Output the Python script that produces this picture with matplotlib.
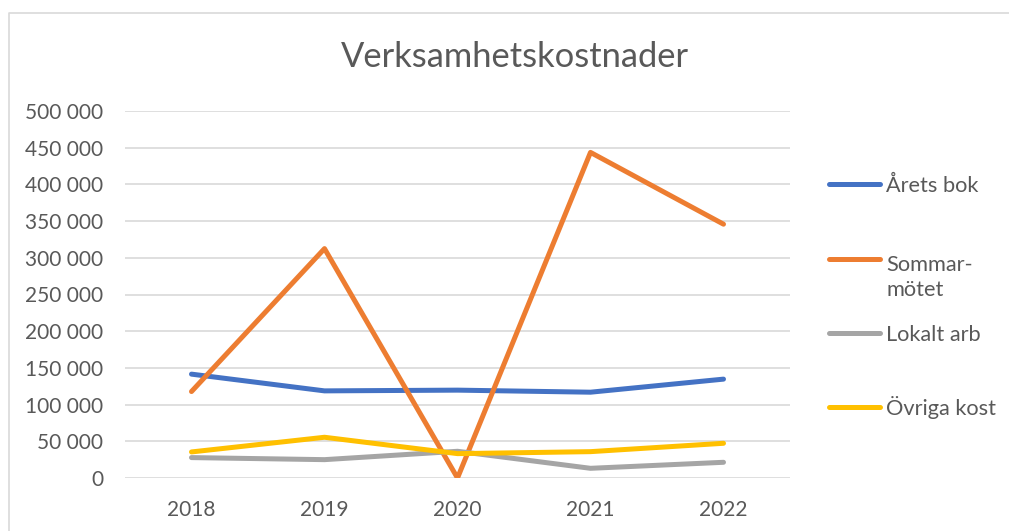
import matplotlib
matplotlib.use("Agg")
import matplotlib.pyplot as plt
from matplotlib.lines import Line2D
from matplotlib.ticker import FuncFormatter

# data
years = ["2018", "2019", "2020", "2021", "2022"]
arets_bok = [141500, 118700, 119700, 116900, 134700]
sommarmotet = [117800, 312500, 0, 443600, 345800]
lokalt_arb = [27800, 25000, 36400, 13200, 21400]
ovriga_kost = [35500, 55500, 33200, 35900, 47300]

labels = ["Årets bok", "Sommar-\nmötet", "Lokalt arb", "Övriga kost"]
colors = ["#4472C4", "#ED7D31", "#A5A5A5", "#FFC000"]
series = [arets_bok, sommarmotet, lokalt_arb, ovriga_kost]

plt.rcParams['font.family'] = ['Lato', 'DejaVu Sans']
txt = "#595959"
grid = "#D9D9D9"

W, H = 1009, 531
fig = plt.figure(figsize=(W / 100, H / 100), dpi=100)
ax = fig.add_axes([125 / W, 1 - 478 / H, (790 - 125) / W, (478 - 111) / H])

x = list(range(len(years)))
for vals, c in zip(series, colors):
    ax.plot(x, vals, color=c, linewidth=3.6, solid_capstyle='round',
            solid_joinstyle='round', zorder=3)

ax.set_xlim(-0.5, len(years) - 0.5)
ax.set_ylim(0, 500000)
ax.set_yticks(range(0, 500001, 50000))
ax.yaxis.set_major_formatter(FuncFormatter(lambda v, p: f"{int(v):,}".replace(",", " ")))
ax.set_xticks(x)
ax.set_xticklabels(years)
ax.grid(axis='y', color=grid, linewidth=1.2, zorder=0)
ax.tick_params(length=0, labelsize=15, colors=txt)
ax.tick_params(axis='y', pad=15.5)
ax.tick_params(axis='x', pad=16)
for s in ax.spines.values():
    s.set_visible(False)

fig.text(515 / W, 1 - 67 / H, "Verksamhetskostnader", ha='center', va='baseline',
         fontsize=24.8, color=txt)

# legend drawn by hand so the two-line label sits like the original
# (line sits level with the first text line)
leg_y = [184, 259, 333, 407]
for lab, c, yy in zip(labels, colors, leg_y):
    fy = 1 - yy / H
    fig.add_artist(Line2D([829 / W, 880 / W], [fy, fy], color=c, linewidth=3.6,
                          solid_capstyle='round', transform=fig.transFigure))
    base = yy + 8 + 29 * lab.count("\n")
    fig.text(886 / W, 1 - base / H, lab, ha='left', va='baseline', fontsize=15.7,
             color=txt, linespacing=1.3)

# chart border (top and left visible in the crop)
fig.add_artist(Line2D([8.5 / W, 8.5 / W, 1.0], [0.0, 1 - 12.5 / H, 1 - 12.5 / H],
                      color=grid, linewidth=1.2, transform=fig.transFigure))

fig.savefig("out.png", dpi=100)
